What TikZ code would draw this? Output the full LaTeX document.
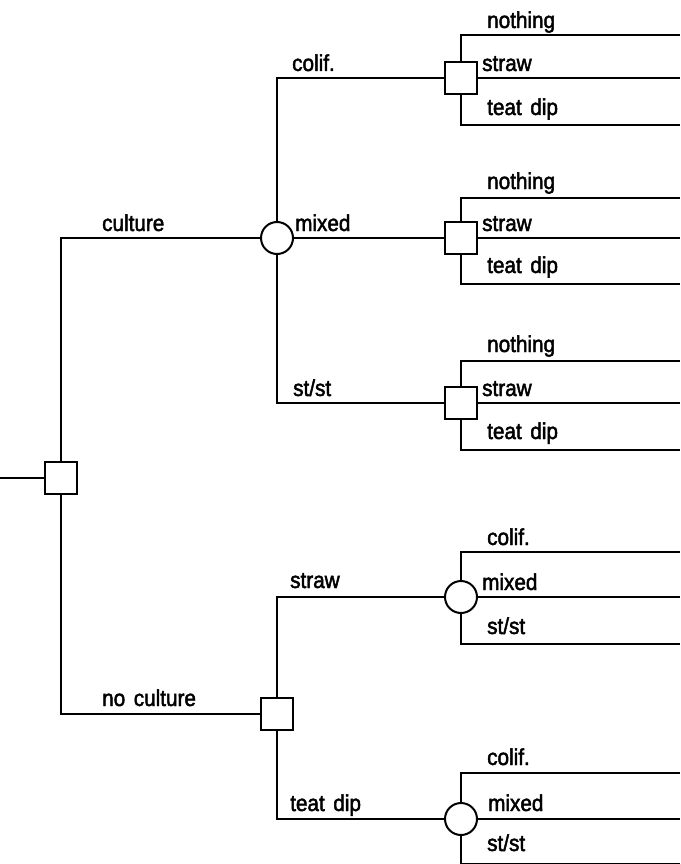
\documentclass[tikz,border=0pt]{standalone}
\usepackage{fontspec}
\setmainfont[FakeStretch=0.9,FakeBold=2,WordSpace=1.5]{Liberation Sans}
\usetikzlibrary{positioning}

\begin{document}
\begin{tikzpicture}[
  x=1pt, y=-1pt,
  every node/.style={font=\fontsize{23}{27}\selectfont},
  lbl/.style={anchor=base west, inner sep=0pt},
  decision/.style={draw, rectangle, line width=2pt, minimum size=32pt, inner sep=0pt},
  chance/.style={draw, circle, line width=2pt, minimum size=32pt, inner sep=0pt},
  branch/.style={line width=1.9pt}
]
\useasboundingbox (0,0) rectangle (680,864);

% Root decision
\coordinate (in) at (0,478);
\node[decision] (d0) at (61,478) {};

% culture branch
\node[chance] (c1) at (277,238) {};
\node[decision] (d11) at (461,78) {};
\node[decision] (d12) at (461,238) {};
\node[decision] (d13) at (461,403) {};

% no culture branch
\node[decision] (d2) at (277,714) {};
\node[chance] (c21) at (461,597) {};
\node[chance] (c22) at (461,819) {};

% Leaf ends (right margin)
\coordinate (e11a) at (680,35);
\coordinate (e11b) at (680,78);
\coordinate (e11c) at (680,125);
\coordinate (e12a) at (680,198);
\coordinate (e12b) at (680,238);
\coordinate (e12c) at (680,284);
\coordinate (e13a) at (680,361);
\coordinate (e13b) at (680,403);
\coordinate (e13c) at (680,450);
\coordinate (e21a) at (680,552);
\coordinate (e21b) at (680,597);
\coordinate (e21c) at (680,644);
\coordinate (e22a) at (680,773);
\coordinate (e22b) at (680,819);
\coordinate (e22c) at (680,864);

% Tree lines
\draw[branch] (in) -- (d0);
\draw[branch] (d0) |- (c1);
\draw[branch] (d0) |- (d2);
\draw[branch] (c1) |- (d11);
\draw[branch] (c1) -- (d12);
\draw[branch] (c1) |- (d13);
\draw[branch] (d2) |- (c21);
\draw[branch] (d2) |- (c22);

\draw[branch] (d11) |- (e11a);
\draw[branch] (d11) -- (e11b);
\draw[branch] (d11) |- (e11c);
\draw[branch] (d12) |- (e12a);
\draw[branch] (d12) -- (e12b);
\draw[branch] (d12) |- (e12c);
\draw[branch] (d13) |- (e13a);
\draw[branch] (d13) -- (e13b);
\draw[branch] (d13) |- (e13c);
\draw[branch] (c21) |- (e21a);
\draw[branch] (c21) -- (e21b);
\draw[branch] (c21) |- (e21c);
\draw[branch] (c22) |- (e22a);
\draw[branch] (c22) -- (e22b);
\draw[branch] (c22) |- (e22c);

% Branch labels
\node[lbl] (lcult) at (102,231) {culture};
\node[lbl] (lnocult) at (102,706) {no culture};
\node[lbl] (lcolif) at (292,71) {colif.};
\node[lbl] (lmixed) at (295,231) {mixed};
\node[lbl] (lstst) at (293,396) {st/st};
\node[lbl] (lstraw) at (290,588) {straw};
\node[lbl] (lteat) at (290,811) {teat dip};

% Leaf labels
\node[lbl] (l11a) at (487,28) {nothing};
\node[lbl] (l11b) at (482,71) {straw};
\node[lbl] (l11c) at (487,115) {teat dip};
\node[lbl] (l12a) at (487,189) {nothing};
\node[lbl] (l12b) at (482,231) {straw};
\node[lbl] (l12c) at (487,273) {teat dip};
\node[lbl] (l13a) at (487,352) {nothing};
\node[lbl] (l13b) at (482,396) {straw};
\node[lbl] (l13c) at (487,439) {teat dip};
\node[lbl] (l21a) at (487,545) {colif.};
\node[lbl] (l21b) at (482,590) {mixed};
\node[lbl] (l21c) at (487,634) {st/st};
\node[lbl] (l22a) at (487,765) {colif.};
\node[lbl] (l22b) at (488,811) {mixed};
\node[lbl] (l22c) at (487,851) {st/st};

\end{tikzpicture}
\end{document}
